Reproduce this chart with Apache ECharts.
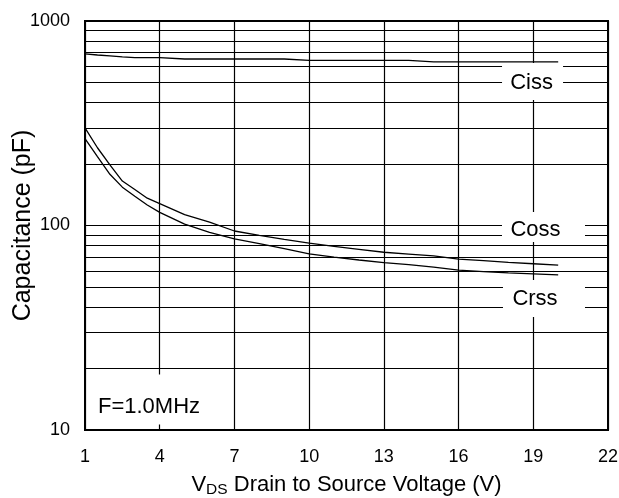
<!DOCTYPE html>
<html>
<head>
<meta charset="utf-8">
<script src="https://cdn.jsdelivr.net/npm/echarts@6/dist/echarts.min.js"></script>
<style>
  html, body { margin: 0; padding: 0; background: #fff; }
  #chart { width: 619px; height: 498px; }
</style>
</head>
<body>
<div id="chart"></div>
<script>
// drain-source voltage (V)
var voltage = [1, 1.5, 2, 2.5, 3, 3.5, 4, 5, 6, 7, 8, 9, 10, 11, 12, 13, 14, 15, 16, 17, 18, 19, 20]
// capacitances (pF)
var ciss = [690, 682, 675, 668, 662, 662, 662, 652, 652, 652, 652, 652, 642, 642, 642, 642, 642, 631, 631, 631, 631, 631, 631]
var coss = [300, 240, 198, 165, 150, 136, 128, 113, 104, 94, 89.5, 85.5, 82, 79, 76.5, 74, 72.5, 71, 68.5, 67.3, 66, 65, 64]
var crss = [266, 217, 178, 154, 139, 126, 116, 101.5, 92.5, 86, 81.5, 77, 72.6, 70, 67.8, 65.8, 64.3, 62.6, 60.5, 59.5, 58.7, 58, 57.3]
// log minor grid lines
var minorGrid = [20, 30, 40, 50, 60, 70, 80, 90, 200, 300, 400, 500, 600, 700, 800, 900]

var font = '"Liberation Sans", Arial, sans-serif'

function pairs (ys) {
  return voltage.map(function (x, i) { return [x, ys[i]] })
}

function box (name, coord, size, offset) {
  return {
    coord: coord,
    symbol: 'rect',
    symbolSize: size,
    itemStyle: { color: '#fff' },
    label: {
      show: true,
      position: 'inside',
      formatter: name,
      offset: offset,
      color: '#000',
      fontFamily: font,
      fontSize: 22
    }
  }
}

var chart = echarts.init(document.getElementById('chart'))
chart.setOption({
  backgroundColor: '#fff',
  animation: false,
  grid: {
    left: 85,
    top: 21,
    right: 11,
    bottom: 68,
    outerBoundsMode: 'none',
    containLabel: false,
    show: true,
    borderColor: '#000',
    borderWidth: 2
  },
  xAxis: {
    type: 'value',
    min: 1,
    max: 22,
    interval: 3,
    name: '{m|V}{s|DS}{m| Drain to Source Voltage (V)}',
    nameLocation: 'middle',
    nameMoveOverlap: false,
    nameGap: 42,
    nameTextStyle: {
      rich: {
        m: { fontFamily: font, fontSize: 22, color: '#000', lineHeight: 26, verticalAlign: 'middle' },
        s: { fontFamily: font, fontSize: 15.5, color: '#000', lineHeight: 15, verticalAlign: 'bottom' }
      }
    },
    axisLine: { lineStyle: { color: '#000', width: 2 } },
    axisTick: { show: false },
    axisLabel: { color: '#000', fontFamily: font, fontSize: 18, margin: 18 },
    splitLine: { lineStyle: { color: '#000', width: 1.2 } }
  },
  yAxis: {
    type: 'log',
    logBase: 10,
    min: 10,
    max: 1000,
    name: 'Capacitance (pF)',
    nameLocation: 'middle',
    nameMoveOverlap: false,
    nameGap: 49,
    nameTextStyle: { color: '#000', fontFamily: font, fontSize: 25 },
    axisLine: { lineStyle: { color: '#000', width: 2 } },
    axisTick: { show: false },
    axisLabel: {
      color: '#000',
      fontFamily: font,
      fontSize: 18,
      margin: 15,
      formatter: function (v) { return String(Math.round(v)) }
    },
    splitLine: { lineStyle: { color: '#000', width: 1.2 } }
  },
  series: [
    {
      name: 'Ciss',
      type: 'line',
      z: 3,
      symbol: 'none',
      data: pairs(ciss),
      lineStyle: { color: '#000', width: 1.3 },
      markLine: {
        z: 1,
        silent: true,
        symbol: 'none',
        label: { show: false },
        lineStyle: { color: '#000', width: 1.2, type: 'solid' },
        data: minorGrid.map(function (v) { return { yAxis: v } })
      }
    },
    {
      name: 'Coss',
      type: 'line',
      z: 3,
      symbol: 'none',
      data: pairs(coss),
      lineStyle: { color: '#000', width: 1.3 }
    },
    {
      name: 'Crss',
      type: 'line',
      z: 3,
      symbol: 'none',
      data: pairs(crss),
      lineStyle: { color: '#000', width: 1.3 },
      markPoint: {
        z: 6,
        silent: true,
        data: [
          box('Ciss', [18.97, 506], [61, 37], [-1, 1]),
          box('Coss', [19.41, 98.4], [83, 30], [-8, 3]),
          box('Crss', [19.43, 44], [82, 37], [-9, 1]),
          box('F=1.0MHz', [3.61, 14.1], [116, 50], [-1, 7])
        ]
      }
    }
  ]
})
</script>
</body>
</html>
